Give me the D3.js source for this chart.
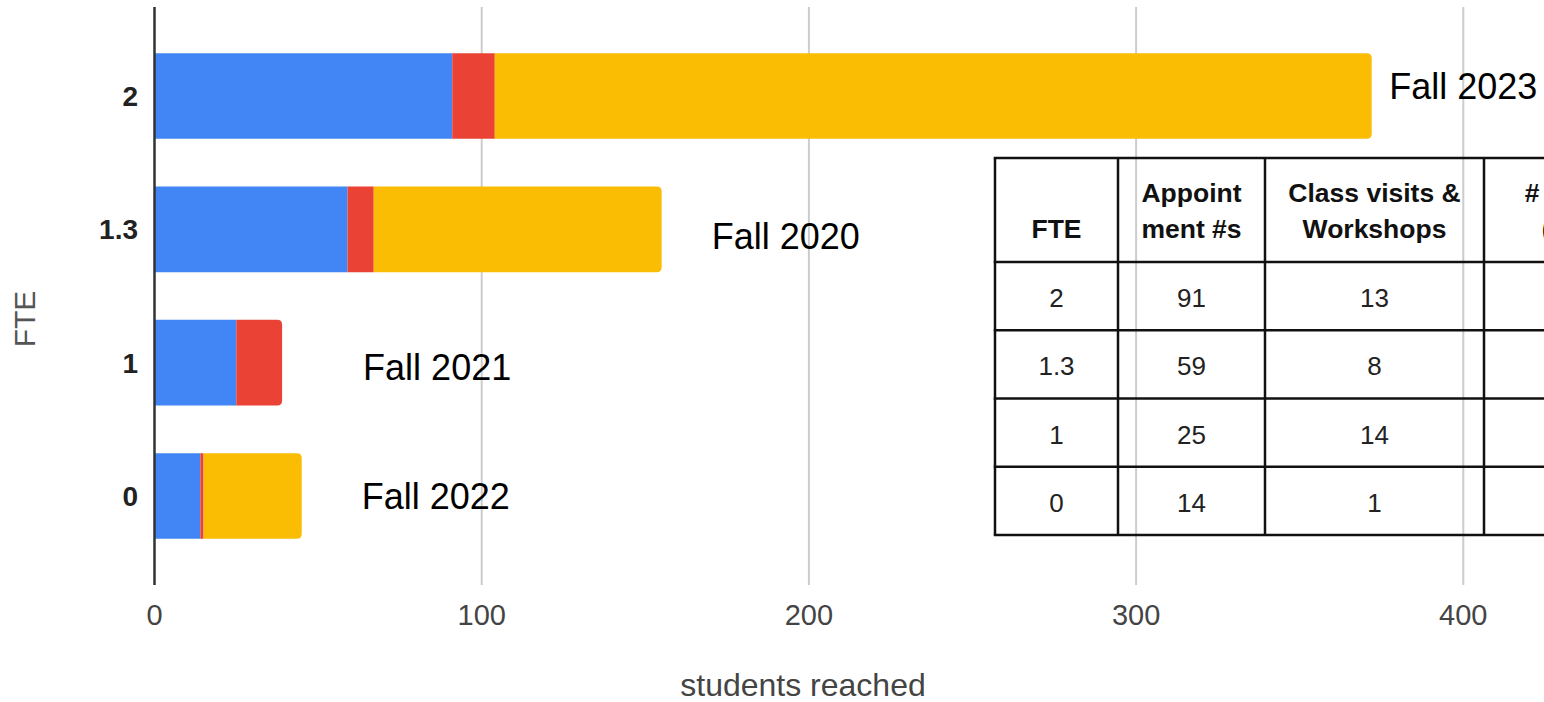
<!DOCTYPE html>
<html>
<head>
<meta charset="utf-8">
<script src="https://cdn.jsdelivr.net/npm/d3@7"></script>
<style>
  html, body { margin: 0; padding: 0; background: #fff; }
  svg { display: block; font-family: Arial, "Liberation Sans", sans-serif; }
</style>
</head>
<body>
<svg id="chart" width="1544" height="702"></svg>
<script>
// FTE levels (one bar each) and the students reached by each activity
const categories   = ["2", "1.3", "1", "0"];
const appointments = [91, 59, 25, 14];
const classVisits  = [13, 8, 14, 1];
const outreach     = [268, 88, 0, 30];
const terms        = ["Fall 2023", "Fall 2020", "Fall 2021", "Fall 2022"];
const xTicks       = [0, 100, 200, 300, 400];
const tableHeaders = [["FTE"], ["Appoint", "ment #s"], ["Class visits &", "Workshops"], ["# Outreach", "(tabling)"]];

const seriesKeys   = ["appointments", "classVisits", "outreach"];
const seriesColors = ["#4285F4", "#EA4335", "#FBBC04"];

const svg = d3.select("#chart");

const x = d3.scaleLinear().domain([0, 400]).range([154.5, 1463.3]);
const y = d3.scaleBand().domain(categories).range([7, 585])
  .paddingInner(0.358).paddingOuter(0.347);

const rows = categories.map((c, i) => ({
  fte: c,
  appointments: appointments[i],
  classVisits: classVisits[i],
  outreach: outreach[i]
}));
const stacked = d3.stack().keys(seriesKeys)(rows);

// vertical gridlines
svg.append("g").selectAll("line")
  .data(xTicks.filter(t => t !== 0))
  .join("line")
  .attr("x1", d => x(d)).attr("x2", d => x(d))
  .attr("y1", 7).attr("y2", 585)
  .attr("stroke", "#cccccc").attr("stroke-width", 2);

// which series closes each bar (gets the rounded end)
const lastKey = rows.map(r => {
  let k = null;
  seriesKeys.forEach(s => { if (r[s] > 0) k = s; });
  return k;
});

function barPath(x0, y0, x1, y1, r) {
  r = Math.min(r, (x1 - x0) / 2);
  return `M${x0},${y0}H${x1 - r}Q${x1},${y0} ${x1},${y0 + r}V${y1 - r}Q${x1},${y1} ${x1 - r},${y1}H${x0}Z`;
}

const barG = svg.append("g");
stacked.forEach((layer, si) => {
  barG.append("g").selectAll("path")
    .data(layer.map((d, i) => ({ d, i })).filter(o => o.d[1] > o.d[0]))
    .join("path")
    .attr("fill", seriesColors[si])
    .attr("d", o => {
      const x0 = x(o.d[0]), x1 = x(o.d[1]);
      const y0 = y(categories[o.i]), y1 = y0 + y.bandwidth();
      const r = lastKey[o.i] === layer.key ? 5 : 0;
      return barPath(x0, y0, x1, y1, r);
    });
});

// category axis line
svg.append("line")
  .attr("x1", x(0)).attr("x2", x(0))
  .attr("y1", 7).attr("y2", 585)
  .attr("stroke", "#333").attr("stroke-width", 2.5);

// x tick labels
svg.append("g").selectAll("text")
  .data(xTicks).join("text")
  .attr("x", d => x(d)).attr("y", 625)
  .attr("text-anchor", "middle")
  .attr("font-size", 29).attr("fill", "#444")
  .text(d => d);

// y tick labels
svg.append("g").selectAll("text")
  .data(categories).join("text")
  .attr("x", 138)
  .attr("y", d => y(d) + y.bandwidth() / 2 + 10)
  .attr("text-anchor", "end")
  .attr("font-size", 28).attr("font-weight", "bold").attr("fill", "#222")
  .text(d => d);

// axis titles
svg.append("text")
  .attr("x", 803).attr("y", 696)
  .attr("text-anchor", "middle")
  .attr("font-size", 32).attr("fill", "#444")
  .text("students reached");

svg.append("text")
  .attr("transform", "translate(35,319) rotate(-90)")
  .attr("text-anchor", "middle")
  .attr("font-size", 30).attr("fill", "#555")
  .text("FTE");

// term annotations next to each bar
const noteOffset = [{ dx: 17.6, dy: 3.3 }, { dx: 50, dy: 19.7 }, { dx: 81, dy: 17.3 }, { dx: 60, dy: 13.3 }];
svg.append("g").selectAll("text")
  .data(categories).join("text")
  .attr("x", (c, i) => x(appointments[i] + classVisits[i] + outreach[i]) + noteOffset[i].dx)
  .attr("y", (c, i) => y(c) + y.bandwidth() / 2 + noteOffset[i].dy)
  .attr("font-size", 36).attr("fill", "#000")
  .text((c, i) => terms[i]);

// summary table (its last column runs off the right edge)
const tbl = { left: 995, top: 158, headH: 104, rowH: 68.25, colW: [123, 147, 219, 220] };
const colX = [tbl.left];
tbl.colW.forEach(w => colX.push(colX[colX.length - 1] + w));
const rowY = [tbl.top, tbl.top + tbl.headH];
categories.forEach(() => rowY.push(rowY[rowY.length - 1] + tbl.rowH));

const tg = svg.append("g");
tg.selectAll("line.h").data(rowY).join("line")
  .attr("x1", colX[0] - 1.25).attr("x2", colX[colX.length - 1])
  .attr("y1", d => d).attr("y2", d => d)
  .attr("stroke", "#111").attr("stroke-width", 2.5);
tg.selectAll("line.v").data(colX).join("line")
  .attr("x1", d => d).attr("x2", d => d)
  .attr("y1", rowY[0]).attr("y2", rowY[rowY.length - 1])
  .attr("stroke", "#111").attr("stroke-width", 2.5);

// header cells, bottom-aligned lines
tableHeaders.forEach((lines, ci) => {
  const cx = (colX[ci] + colX[ci + 1]) / 2;
  const t = tg.append("text")
    .attr("text-anchor", "middle")
    .attr("font-size", 26.5).attr("font-weight", "bold").attr("fill", "#111");
  lines.forEach((ln, li) => {
    t.append("tspan")
      .attr("x", cx)
      .attr("y", tbl.top + 80.3 - (lines.length - 1 - li) * 36.6)
      .text(ln);
  });
});

// body cells for the columns that fit on the page
const tableCols = [categories, appointments, classVisits];
categories.forEach((c, ri) => {
  const cy = (rowY[ri + 1] + rowY[ri + 2]) / 2 + 11;
  tableCols.forEach((col, ci) => {
    tg.append("text")
      .attr("x", (colX[ci] + colX[ci + 1]) / 2)
      .attr("y", cy)
      .attr("text-anchor", "middle")
      .attr("font-size", 26).attr("fill", "#222")
      .text(col[ri]);
  });
});
</script>
</body>
</html>
